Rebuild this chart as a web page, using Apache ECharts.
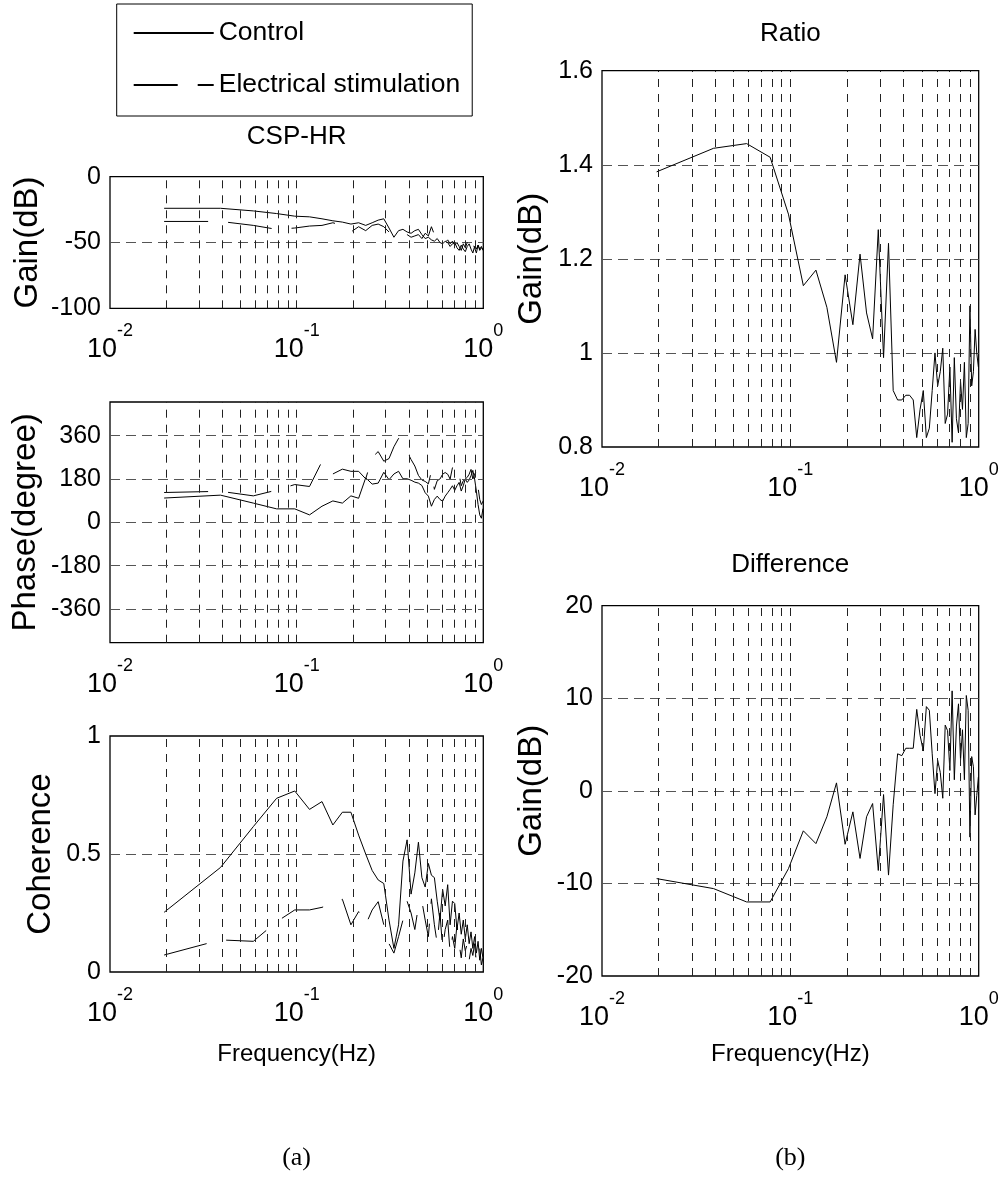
<!DOCTYPE html>
<html>
<head>
<meta charset="utf-8">
<title>CSP-HR transfer function</title>
<script src="https://cdn.jsdelivr.net/npm/echarts@6/dist/echarts.min.js"></script>
<style>
  html, body { margin: 0; padding: 0; background: #fff; }
  #chart { width: 1003px; height: 1178px; }
</style>
</head>
<body>
<div id="chart"></div>
<script>
// Spectral frequency bins (Hz)
const freq = [0.0195,0.0391,0.0586,0.0781,0.0977,0.1172,0.1367,0.1563,0.1758,0.1953,
  0.2148,0.2344,0.2539,0.2734,0.2930,0.3125,0.3320,0.3516,0.3711,0.3906,
  0.4102,0.4297,0.4492,0.4688,0.4883,0.5078,0.5273,0.5469,0.5664,0.5859,
  0.6055,0.6250,0.6445,0.6641,0.6836,0.7031,0.7227,0.7422,0.7617,0.7813,
  0.8008,0.8203,0.8398,0.8594,0.8789,0.8984,0.9180,0.9375,0.9570,0.9766,0.9961];

// CSP-HR gain (dB)
const gainControl = [-24,-24,-26,-28,-30,-30.5,-32,-33.5,-34.5,-36,-35,-37,-35,-33,-32,-39,-46,-41,-40,-42,
  -43,-41,-40,-44,-47,-46,-48,-49,-47,-50,-51,-49,-50,-53,-51,-50,-54,-56,-52,-55,
  -57,-53,-51,-55,-58,-53,-55,-52,-56,-54,-55];
const gainStim = [-34,-34,-37,-40,-39,-37.5,-37,-35,-37,-42,-38,-41,-37,-36,-38,-42,-43,-42,-45,-44,
  -46,-45,-44,-47,-43,-45,-38,-44,-47,-48,-47,-50,-48,-51,-49,-52,-50,-53,-56,-51,
  -54,-50,-53,-57,-51,-54,-58,-52,-55,-53,-56];

// CSP-HR phase (degree)
const phaseControl = [101,113,80,56,56,31,67,89,80,110,100,185,159,163,208,177,201,212,181,181,
  175,167,163,153,123,109,67,95,109,95,88,109,123,137,152,133,152,166,130,152,
  180,166,176,194,216,180,130,74,31,17,57];
const phaseStim = [124,129,110,134,157,149,253,201,221,212,212,181,270,294,254,265,314,349,314,294,
  261,234,195,176,170,160,213,137,173,180,200,207,200,180,227,243,227,200,152,173,
  176,187,200,220,180,200,213,145,95,74,88];

// CSP-HR coherence
const cohControl = [0.253,0.443,0.616,0.736,0.767,0.689,0.722,0.623,0.677,0.677,0.58,0.5,0.43,0.39,0.375,0.22,0.1,0.2,0.47,0.56,
  0.33,0.42,0.55,0.4,0.36,0.46,0.41,0.4,0.3,0.22,0.35,0.28,0.37,0.2,0.3,0.29,0.18,0.25,0.16,0.22,
  0.14,0.2,0.12,0.17,0.1,0.15,0.08,0.13,0.05,0.1,0.06];
const cohStim = [0.072,0.136,0.13,0.213,0.263,0.263,0.274,0.29,0.308,0.2,0.256,0.2,0.263,0.298,0.2,0.12,0.08,0.15,0.22,0.3,
  0.25,0.18,0.28,0.3,0.22,0.15,0.31,0.2,0.12,0.25,0.1,0.18,0.22,0.08,0.15,0.1,0.2,0.12,0.06,0.14,
  0.09,0.12,0.05,0.1,0.07,0.12,0.04,0.08,0.1,0.03,0.06];

// Gain ratio and gain difference between conditions
const ratio = [1.385,1.435,1.445,1.416,1.295,1.143,1.176,1.097,0.98,1.166,1.06,1.21,1.085,1.03,1.262,0.99,1.233,0.92,0.9,0.9,
  0.91,0.91,0.9,0.82,0.88,0.92,0.82,0.84,0.92,1.0,0.93,0.96,1.01,0.85,0.87,0.97,0.81,0.99,0.86,0.83,
  0.94,0.88,0.98,0.82,0.85,1.1,0.93,0.96,1.05,1.0,0.97];
const difference = [-9.48,-10.56,-12,-12,-8.4,-4.32,-5.7,-2.8,0.86,-5.77,-2.27,-7.3,-2.8,-1.37,-8.6,-0.4,-9.1,-1.5,4.0,3.8,
  4.6,4.6,4.6,8.8,6,4.3,9.1,8.7,4,-0.3,3.3,2,-0.8,7.1,6.5,2.2,10.8,1.2,7,9.4,
  3.3,6.6,1.2,10.3,8.7,-5.0,3.7,2.6,-2.6,-0.5,1.5];

// Axis ticks
const freqDecades = [0.01, 0.1, 1];
const freqExponents = ['-2', '-1', '0'];
const freqGrid = [0.02,0.03,0.04,0.05,0.06,0.07,0.08,0.09,0.1,0.2,0.3,0.4,0.5,0.6,0.7,0.8,0.9];
const gainTicks = [-100, -50, 0];
const phaseTicks = [-360, -180, 0, 180, 360];
const phaseRange = [-500, 500];
const cohTicks = [0, 0.5, 1];
const ratioTicks = [0.8, 1, 1.2, 1.4, 1.6];
const diffTicks = [-20, -10, 0, 10, 20];

const FONT_SANS = "'Liberation Sans',Arial,Helvetica,sans-serif";
const FONT_SERIF = "'Liberation Serif','Times New Roman',serif";
const DASH_STIM = [44, 20];

function decadeLabel(v) {
  const e = Math.round(Math.log10(v));
  const idx = freqDecades.findIndex(d => Math.round(Math.log10(d)) === e);
  return '{b|10}{s|' + (idx >= 0 ? freqExponents[idx] : e) + '}';
}

function tickRange(t) {
  return { min: t[0], max: t[t.length - 1], interval: +(t[1] - t[0]).toFixed(6) };
}

const panels = [
  { left: 110, top: 176.7, width: 373.3, height: 131.6, yTicks: gainTicks,
    yName: 'Gain(dB)', yNameGap: 66,
    lines: [{ name: 'Control', values: gainControl }, { name: 'Electrical stimulation', values: gainStim, dashed: true }] },
  { left: 110, top: 402, width: 373.3, height: 240.7, yTicks: phaseTicks, yRange: phaseRange, custom: true,
    yName: 'Phase(degree)', yNameGap: 68,
    lines: [{ name: 'Control', values: phaseControl }, { name: 'Electrical stimulation', values: phaseStim, dashed: true }] },
  { left: 110, top: 736, width: 373.3, height: 236, yTicks: cohTicks,
    yName: 'Coherence', yNameGap: 53, xName: 'Frequency(Hz)', xNameGap: 68,
    lines: [{ name: 'Control', values: cohControl }, { name: 'Electrical stimulation', values: cohStim, dashed: true }] },
  { left: 602, top: 70.7, width: 376.7, height: 376.3, yTicks: ratioTicks,
    yName: 'Gain(dB)', yNameGap: 54,
    lines: [{ name: 'Ratio', values: ratio }] },
  { left: 602, top: 605.7, width: 376.7, height: 370.3, yTicks: diffTicks,
    yName: 'Gain(dB)', yNameGap: 54, xName: 'Frequency(Hz)', xNameGap: 64,
    lines: [{ name: 'Difference', values: difference }] }
];

const vGridStyle = { type: [8, 7], color: '#222', width: 1 };
const hGridStyle = { type: [10, 6], color: '#555', width: 1.2 };

const grids = [], xAxes = [], yAxes = [], series = [];

panels.forEach((p, i) => {
  grids.push({
    left: p.left, top: p.top, width: p.width, height: p.height,
    show: true, borderColor: '#000', borderWidth: 1.3, backgroundColor: 'rgba(0,0,0,0)',
    containLabel: false, outerBoundsMode: 'none'
  });

  xAxes.push({
    type: 'log', logBase: 10, min: 0.01, max: 1, gridIndex: i,
    axisLine: { show: false }, axisTick: { show: false }, splitLine: { show: false },
    axisLabel: {
      margin: 14, formatter: decadeLabel,
      rich: {
        b: { fontFamily: FONT_SANS, fontSize: 27, color: '#000', lineHeight: 41, verticalAlign: 'bottom' },
        s: { fontFamily: FONT_SANS, fontSize: 18, color: '#000', lineHeight: 19, verticalAlign: 'top' }
      }
    },
    name: p.xName || '', nameLocation: 'middle', nameGap: p.xNameGap || 0, nameMoveOverlap: false,
    nameTextStyle: { fontFamily: FONT_SANS, fontSize: 24, color: '#000', lineHeight: 28 }
  });

  const r = tickRange(p.yTicks);
  const yAxis = {
    type: 'value', gridIndex: i,
    axisLine: { show: false }, axisTick: { show: false },
    axisLabel: { margin: 9, fontFamily: FONT_SANS, fontSize: 25, color: '#000' },
    splitLine: { show: true, showMinLine: false, showMaxLine: false, lineStyle: hGridStyle },
    name: p.yName, nameLocation: 'middle', nameRotate: 90, nameGap: p.yNameGap, nameMoveOverlap: false,
    nameTextStyle: { fontFamily: FONT_SANS, fontSize: 33, color: '#000', lineHeight: 32 }
  };
  if (p.custom) {
    yAxis.min = p.yRange[0];
    yAxis.max = p.yRange[1];
    yAxis.axisLabel.customValues = p.yTicks;
    yAxis.axisTick.customValues = p.yTicks;
    yAxis.splitLine.show = false;
  } else {
    yAxis.min = r.min; yAxis.max = r.max; yAxis.interval = r.interval;
  }
  yAxes.push(yAxis);

  // Dashed grid: vertical lines at every frequency sub-division, horizontal ones for custom ticks
  const gridData = freqGrid.map(v => ({ xAxis: v, lineStyle: vGridStyle }));
  if (p.custom) {
    p.yTicks.forEach(v => gridData.push({ yAxis: v, lineStyle: hGridStyle }));
  }

  p.lines.forEach((ln, j) => {
    series.push({
      type: 'line', name: ln.name, xAxisIndex: i, yAxisIndex: i,
      data: freq.map((f, k) => [f, ln.values[k]]),
      symbol: 'none', showSymbol: false, clip: true,
      lineStyle: { color: '#000', width: 1, type: ln.dashed ? DASH_STIM : 'solid' },
      itemStyle: { color: '#000' },
      emphasis: { disabled: true }, animation: false, z: 3,
      markLine: j === 0 ? {
        silent: true, symbol: ['none', 'none'], label: { show: false },
        emphasis: { disabled: true }, animation: false, data: gridData
      } : undefined
    });
  });
});

const option = {
  backgroundColor: '#fff',
  animation: false,
  legend: {
    data: ['Control', 'Electrical stimulation'],
    orient: 'vertical', left: 116.7, top: 4,
    itemWidth: 80, itemHeight: 20, itemGap: 20,
    padding: [13, 12, 15, 16],
    borderColor: '#000', borderWidth: 1, borderRadius: 0,
    backgroundColor: '#fff',
    selectedMode: false,
    itemStyle: { opacity: 0 },
    textStyle: { fontFamily: FONT_SANS, fontSize: 26.5, color: '#000', lineHeight: 32 }
  },
  grid: grids,
  xAxis: xAxes,
  yAxis: yAxes,
  series: series,
  graphic: [
    { type: 'text', x: 296.6, y: 137, style: { text: 'CSP-HR', font: '26px ' + FONT_SANS, fill: '#000', align: 'center', verticalAlign: 'middle' } },
    { type: 'text', x: 790.3, y: 34, style: { text: 'Ratio', font: '26px ' + FONT_SANS, fill: '#000', align: 'center', verticalAlign: 'middle' } },
    { type: 'text', x: 790.3, y: 565, style: { text: 'Difference', font: '26px ' + FONT_SANS, fill: '#000', align: 'center', verticalAlign: 'middle' } },
    { type: 'text', x: 296.6, y: 1158, style: { text: '(a)', font: '26px ' + FONT_SERIF, fill: '#000', align: 'center', verticalAlign: 'middle' } },
    { type: 'text', x: 790.3, y: 1158, style: { text: '(b)', font: '26px ' + FONT_SERIF, fill: '#000', align: 'center', verticalAlign: 'middle' } }
  ]
};

const chart = echarts.init(document.getElementById('chart'), null, { renderer: 'canvas', width: 1003, height: 1178 });
chart.setOption(option);
</script>
</body>
</html>
